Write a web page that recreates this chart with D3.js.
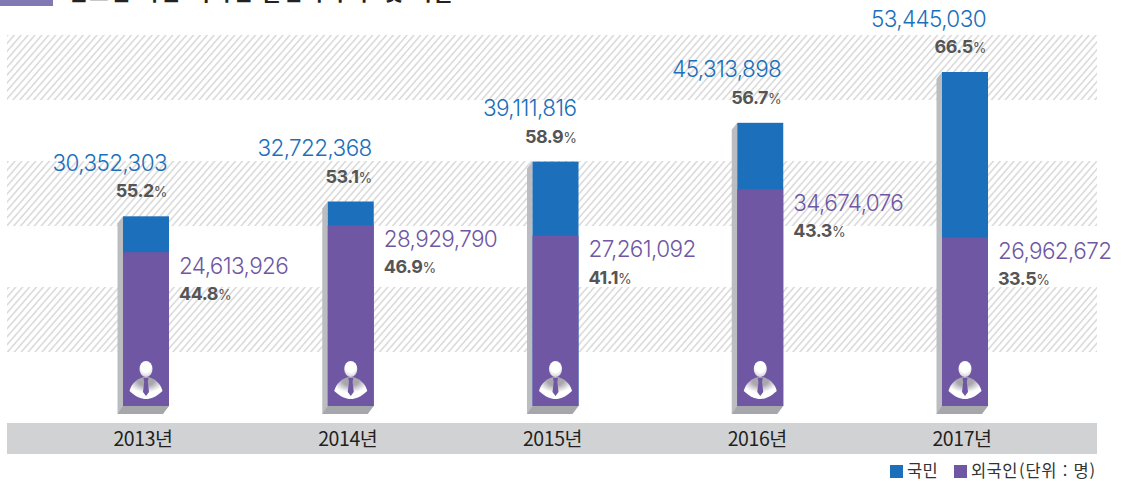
<!DOCTYPE html>
<html lang="ko"><head><meta charset="utf-8">
<script src="https://cdn.jsdelivr.net/npm/d3@7"></script>
<style>html,body{margin:0;padding:0;background:#fff;overflow:hidden}svg{display:block}
text{font-family:Inter,Lato,"Noto Sans CJK KR",sans-serif}
.ko{font-family:"Noto Sans CJK KR",sans-serif}</style></head><body>
<script>
const years=["2013년","2014년","2015년","2016년","2017년"];
const citizens=[30352303,32722368,39111816,45313898,53445030];
const foreigners=[24613926,28929790,27261092,34674076,26962672];
const citizenPct=["55.2","53.1","58.9","56.7","66.5"];
const foreignerPct=["44.8","46.9","41.1","43.3","33.5"];
const legendItems=["국민","외국인"];
const unitNote="(단위 : 명)";
const titleText="연도별 국민·외국인 출입국자 수 및 비율";
const bandYs=[0,1,2];

const W=1123,H=481,BLUE="#1c6fba",PURPLE="#6f57a4";
const svg=d3.select("body").append("svg").attr("width",W).attr("height",H);
const defs=svg.append("defs");
const pat=defs.append("pattern").attr("id","hatch").attr("patternUnits","userSpaceOnUse")
  .attr("width",5.2).attr("height",5.2).attr("patternTransform","rotate(41)");
pat.append("rect").attr("width",5.2).attr("height",5.2).attr("fill","#fff");
pat.append("line").attr("x1",2.6).attr("x2",2.6).attr("y1",0).attr("y2",5.2)
  .attr("stroke","#d0d0d0").attr("stroke-width",1.25);
const grad=defs.append("radialGradient").attr("id","shoulder").attr("cx","50%").attr("cy","15%").attr("r","80%");
grad.append("stop").attr("offset","30%").attr("stop-color","#a9a6ae");
grad.append("stop").attr("offset","70%").attr("stop-color","#fff");
const gradH=defs.append("radialGradient").attr("id","head").attr("cx","50%").attr("cy","30%").attr("r","75%");
gradH.append("stop").attr("offset","55%").attr("stop-color","#fff");
gradH.append("stop").attr("offset","100%").attr("stop-color","#c9c7cc");

// title strip, cropped by the top edge of the picture
svg.append("rect").attr("x",0).attr("y",-10).attr("width",53).attr("height",16).attr("fill","#8079b3");
svg.append("text").attr("class","ko").attr("x",68).attr("y",0).attr("font-size",21)
  .attr("font-weight",700).attr("fill","#222").attr("textLength",385).text(titleText);

// hatched bands
svg.selectAll("rect.band").data(bandYs).join("rect").attr("class","band")
  .attr("x",7).attr("width",1090).attr("y",d=>35+d*126).attr("height",65).attr("fill","url(#hatch)");

// axis strip
svg.append("rect").attr("x",7).attr("y",423).attr("width",1090).attr("height",31).attr("fill","#d1d2d4");

const x=d3.scalePoint().domain(years).range([146,965]);
const y=d3.scaleLinear().domain([0,53445030]).range([406,72]);
const bw=46;

const g=svg.selectAll("g.col").data(years.map((yr,i)=>({yr,i,c:citizens[i],f:foreigners[i],cp:citizenPct[i],fp:foreignerPct[i]})))
  .join("g").attr("class","col").attr("transform",d=>`translate(${x(d.yr)-bw/2},0)`);

// 3D shadow
g.append("path").attr("fill","#bcbdc0").attr("d",d=>`M0,${y(d.c)}L-5.5,${y(d.c)+7}V414H0Z`);
g.append("path").attr("fill","#a6a7aa").attr("d",`M0,406L-5.5,414H40L46,406Z`);
// overlaid bars, both starting at zero
g.append("rect").attr("width",bw).attr("y",d=>y(d.c)).attr("height",d=>y(0)-y(d.c)).attr("fill",BLUE);
g.append("rect").attr("width",bw).attr("y",d=>y(d.f)).attr("height",d=>y(0)-y(d.f)).attr("fill",PURPLE);

// person icon
const ic=g.append("g").attr("transform",`translate(23,0)`);
ic.append("path").attr("fill","url(#shoulder)").attr("d","M-16.5,391C-15,384 -8,377 0,377C8,377 15,384 16.5,391C10,397 5,399 0,399C-5,399 -10,397 -16.5,391Z");
ic.append("ellipse").attr("cy",369).attr("rx",6.5).attr("ry",8).attr("fill","url(#head)");
ic.append("path").attr("fill",PURPLE).attr("d","M-2.5,378H2.5L1.8,382L3,392L0,396L-3,392L-1.8,382Z");

// blue labels
g.append("text").attr("x",bw-2).attr("y",d=>y(d.c)-45.5).attr("text-anchor","end")
  .attr("font-size",22.5).attr("font-weight",300).attr("fill",BLUE).attr("letter-spacing",-0.6).text(d=>d3.format(",")(d.c));
const pct=(sel,ax,ay,anchor)=>{const t=sel.append("text").attr("x",ax).attr("y",ay).attr("text-anchor",anchor)
  .attr("font-weight",700).attr("fill","#555").attr("font-size",18).attr("letter-spacing",-0.5);
  t.append("tspan").text(d=>anchor==="end"?d.cp:d.fp);
  t.append("tspan").attr("font-size",14).attr("font-weight",400).text("%");};
pct(g,bw-2,d=>y(d.c)-19,"end");
// purple labels
g.append("text").attr("x",bw+10).attr("y",d=>y(d.f)+21.5).attr("font-size",22.5).attr("font-weight",300)
  .attr("fill",PURPLE).attr("letter-spacing",-0.6).text(d=>d3.format(",")(d.f));
pct(g,bw+10,d=>y(d.f)+48,"start");

// year labels
g.append("text").attr("class","ko").attr("x",bw/2-3).attr("y",446).attr("text-anchor","middle")
  .attr("font-size",19.5).attr("fill","#231f20").attr("letter-spacing",-0.4).text(d=>d.yr);

// legend
const lg=svg.append("g");
const lx=[890,954],cols=[BLUE,PURPLE];
lg.selectAll("rect").data(legendItems).join("rect").attr("x",(d,i)=>lx[i]).attr("y",465).attr("width",13).attr("height",13).attr("fill",(d,i)=>cols[i]);
lg.selectAll("text").data(legendItems).join("text").attr("class","ko").attr("x",(d,i)=>lx[i]+17).attr("y",477)
  .attr("font-size",16.5).attr("letter-spacing",0.4).attr("fill","#333").text(d=>d);
lg.append("text").attr("class","ko").attr("x",1019).attr("y",477).attr("font-size",16.5).attr("letter-spacing",0.8).attr("fill","#333").text(unitNote);
</script></body></html>
